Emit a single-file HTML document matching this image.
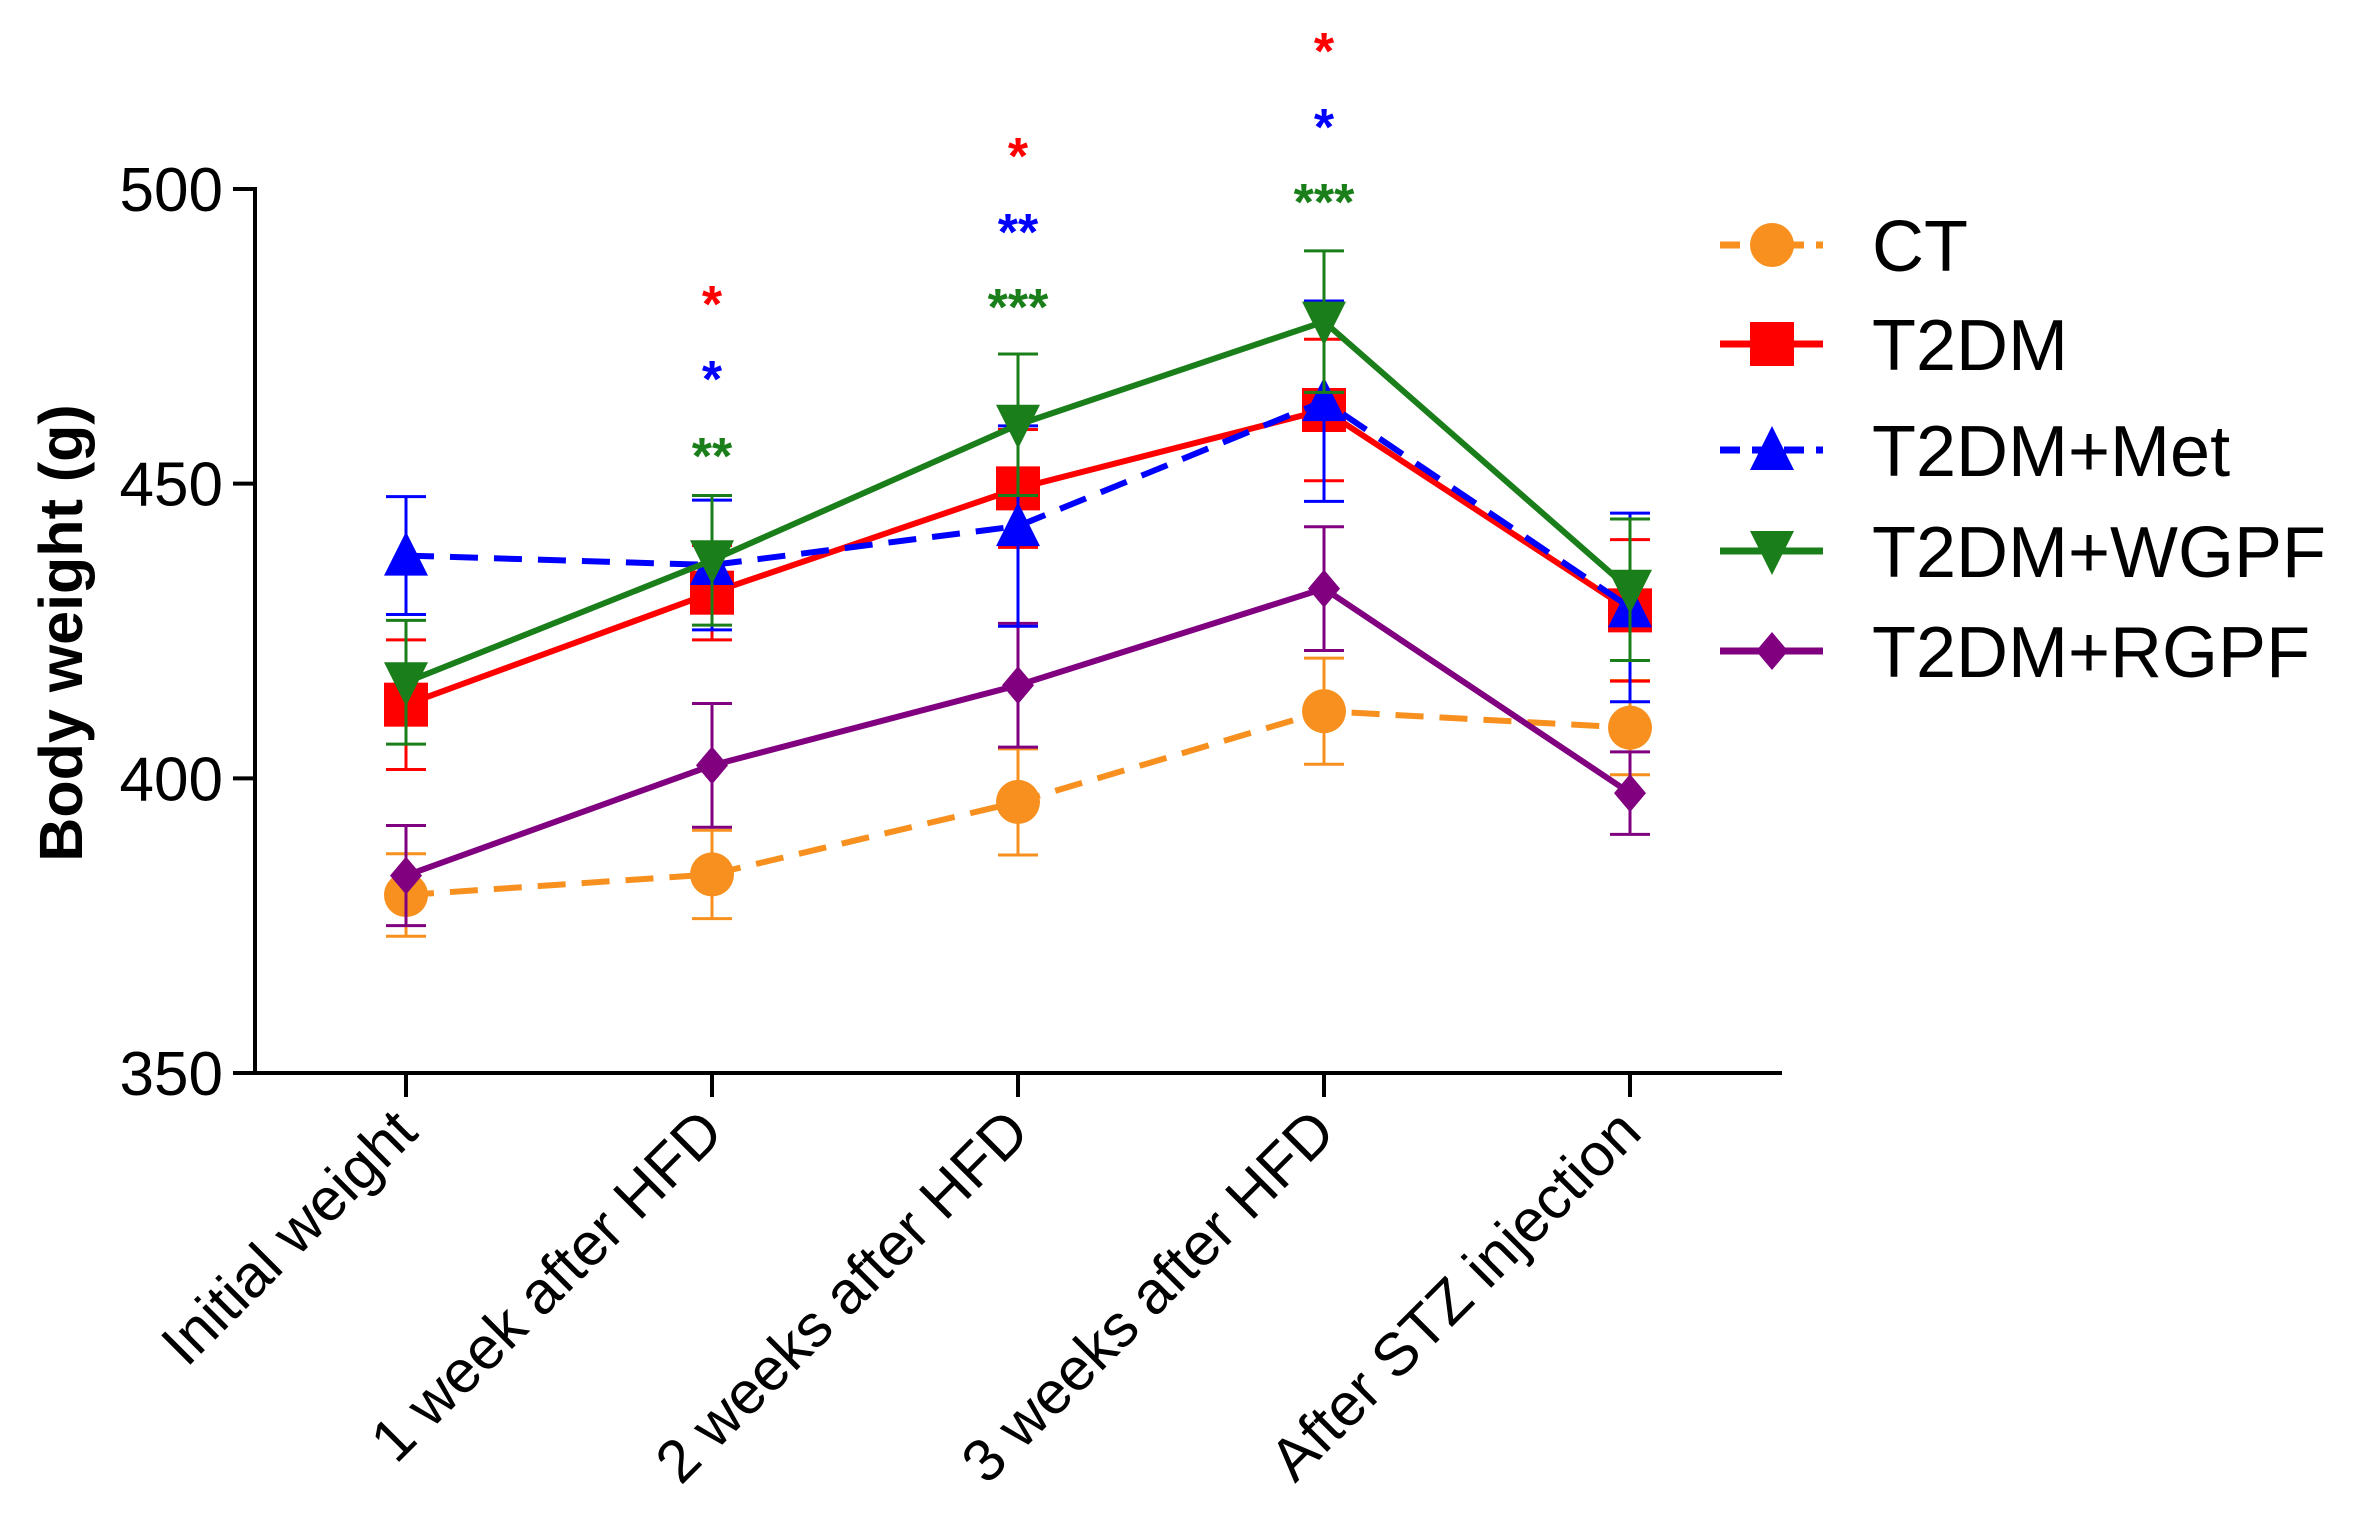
<!DOCTYPE html>
<html><head><meta charset="utf-8"><style>
html,body{margin:0;padding:0;background:#fff;}
svg{display:block;font-family:"Liberation Sans",Arial,sans-serif;}
</style></head><body>
<svg id="chart" width="2353" height="1535" viewBox="0 0 2353 1535" xmlns="http://www.w3.org/2000/svg"></svg>
<script>
const categories = ["Initial weight","1 week after HFD","2 weeks after HFD","3 weeks after HFD","After STZ injection"];
const yTicks = [350,400,450,500];
const seriesNames = ["CT","T2DM","T2DM+Met","T2DM+WGPF","T2DM+RGPF"];
const ctMean = [380.2,383.7,396,411.4,408.6];
const ctErr = [7,7.5,9,9,8];
const t2dmMean = [412.5,431.5,449.2,462.5,428.5];
const t2dmErr = [11,8,10,12,12];
const metMean = [437.8,436.2,442.8,464,429];
const metErr = [10,11,17,17,16];
const wgpfMean = [416.3,437,460,477.5,432];
const wgpfErr = [10.5,11,12,12,12];
const rgpfMean = [383.5,402.2,415.8,432.2,397.5];
const rgpfErr = [8.5,10.5,10.5,10.5,7];
const sigLabels = [[],["*","*","**"],["*","**","***"],["*","*","***"],[]];

const svg = document.getElementById('chart');
const NS = "http://www.w3.org/2000/svg";
const X0 = 255, Y350 = 1073, Y500 = 189, XEND = 1782;
const xPos = i => 406 + i * 306;
const yPos = v => Y350 - (v - 350) * (Y350 - Y500) / 150;
function mk(tag, attrs, parent){
  const e = document.createElementNS(NS, tag);
  for (const k in attrs) e.setAttribute(k, attrs[k]);
  (parent || svg).appendChild(e);
  return e;
}
const axes = mk('g', {});


mk('line', {x1:X0, y1:yPos(500)-2, x2:X0, y2:Y350, stroke:'#000','stroke-width':4}, axes);
mk('line', {x1:X0-2, y1:Y350, x2:XEND, y2:Y350, stroke:'#000','stroke-width':4}, axes);
yTicks.forEach(t => {
  mk('line', {x1:X0-22, y1:yPos(t), x2:X0, y2:yPos(t), stroke:'#000','stroke-width':4}, axes);
  const tx = mk('text', {x:X0-32, y:yPos(t)+22, 'text-anchor':'end','font-size':62, fill:'#000'}, axes);
  tx.textContent = t;
  
  
});
categories.forEach((c, i) => {
  mk('line', {x1:xPos(i), y1:Y350, x2:xPos(i), y2:Y350+24, stroke:'#000','stroke-width':4}, axes);
  const tx = mk('text', {x:0, y:0, 'text-anchor':'end','font-size':60, fill:'#000',
    transform:`translate(${xPos(i)+14},${Y350+62}) rotate(-45)`}, axes);
  tx.textContent = c;
  
  
});
const yl = mk('text', {x:0, y:0, 'text-anchor':'middle','font-size':61,'font-weight':'bold', fill:'#000',
  transform:'translate(82,633) rotate(-90)'});
yl.textContent = 'Body weight  (g)';



function marker(type, cx, cy, color, parent){
  const s = 22;
  if (type === 'circle') return mk('circle', {cx, cy, r:s, fill:color}, parent);
  if (type === 'square') return mk('rect', {x:cx-s, y:cy-s, width:2*s, height:2*s, fill:color}, parent);
  if (type === 'up') return mk('polygon', {points:`${cx},${cy-s-2} ${cx-s},${cy+s-2} ${cx+s},${cy+s-2}`, fill:color}, parent);
  if (type === 'down') return mk('polygon', {points:`${cx},${cy+s+2} ${cx-s},${cy-s+2} ${cx+s},${cy-s+2}`, fill:color}, parent);
  if (type === 'diamond') return mk('polygon', {points:`${cx},${cy-19} ${cx+16},${cy} ${cx},${cy+19} ${cx-16},${cy}`, fill:color}, parent);
}
const series = [
  {name:'ct', mean:ctMean, err:ctErr, color:'#f7901e', dash:'28,16', m:'circle'},
  {name:'rgpf', mean:rgpfMean, err:rgpfErr, color:'#800080', dash:'', m:'diamond'},
  {name:'t2dm', mean:t2dmMean, err:t2dmErr, color:'#ff0000', dash:'', m:'square'},
  {name:'met', mean:metMean, err:metErr, color:'#0000ff', dash:'28,16', m:'up'},
  {name:'wgpf', mean:wgpfMean, err:wgpfErr, color:'#1a7f1a', dash:'', m:'down'}
];
series.forEach(s => {
  const g = mk('g', {});
  
  
  s.mean.forEach((v, i) => {
    const x = xPos(i);
    mk('line', {x1:x, y1:yPos(v+s.err[i]), x2:x, y2:yPos(v-s.err[i]), stroke:s.color,'stroke-width':3}, g);
    mk('line', {x1:x-20, y1:yPos(v+s.err[i]), x2:x+20, y2:yPos(v+s.err[i]), stroke:s.color,'stroke-width':3}, g);
    mk('line', {x1:x-20, y1:yPos(v-s.err[i]), x2:x+20, y2:yPos(v-s.err[i]), stroke:s.color,'stroke-width':3}, g);
  });
  const pts = s.mean.map((v, i) => xPos(i) + ',' + yPos(v)).join(' ');
  const pl = mk('polyline', {points:pts, fill:'none', stroke:s.color,'stroke-width':6,'stroke-dasharray':s.dash}, g);
  
  
  s.mean.forEach((v, i) => {
    const mm = marker(s.m, xPos(i), yPos(v), s.color, g);
    
    
  });
});
const starColors = ['#ff0000','#0000ff','#1a7f1a'];
const starY = [[],[300,375,452],[152,228,303],[47,123,198],[]];
sigLabels.forEach((arr, i) => {
  arr.forEach((lab, k) => {
    const t = mk('text', {x:xPos(i), y:starY[i][k]+22, 'text-anchor':'middle','font-size':52,'font-weight':'bold', fill:starColors[k]});
    t.textContent = lab;
    
    
  });
});
const legendOrder = [
  {m:'circle', color:'#f7901e', dash:'20,12'},
  {m:'square', color:'#ff0000', dash:''},
  {m:'up', color:'#0000ff', dash:'20,12'},
  {m:'down', color:'#1a7f1a', dash:''},
  {m:'diamond', color:'#800080', dash:''}
];
const legY = [245, 344, 450, 551, 651];
const leg = mk('g', {});


seriesNames.forEach((n, i) => {
  const L = legendOrder[i];
  const e = mk('g', {}, leg);
  
  
  mk('line', {x1:1720, y1:legY[i], x2:1823, y2:legY[i], stroke:L.color,'stroke-width':7,'stroke-dasharray':L.dash}, e);
  marker(L.m, 1772, legY[i], L.color, e);
  const t = mk('text', {x:1872, y:legY[i]+26, 'font-size':72, fill:'#000'}, e);
  t.textContent = n;
});
</script>
</body></html>
